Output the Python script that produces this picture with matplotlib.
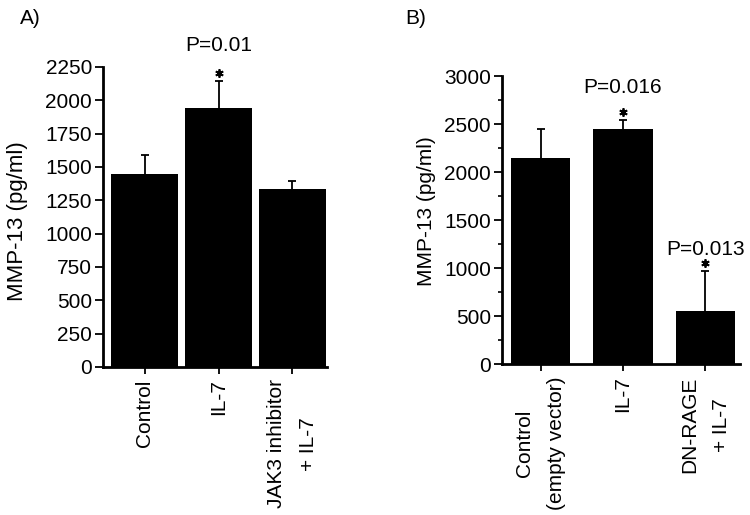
import matplotlib
matplotlib.use("Agg")
import matplotlib.pyplot as plt
import numpy as np

plt.rcParams['font.family'] = ['Liberation Sans', 'DejaVu Sans']

# Panel A data
cats_a = ["Control", "IL-7", "JAK3 inhibitor\n+ IL-7"]
vals_a = [1450, 1945, 1335]
errs_a = [140, 200, 62]
yticks_a = [0, 250, 500, 750, 1000, 1250, 1500, 1750, 2000, 2250]
ann_a = [(1, 2205, "P=0.01", 2410)]  # (bar idx, star y, text, text y)

# Panel B data
cats_b = ["Control\n(empty vector)", "IL-7", "DN-RAGE\n+ IL-7"]
vals_b = [2150, 2445, 550]
errs_b = [300, 95, 420]
yticks_b = [0, 500, 1000, 1500, 2000, 2500, 3000]
ann_b = [(1, 2620, "P=0.016", 2885), (2, 1050, "P=0.013", 1195)]

W, H = 750, 515
fig = plt.figure(figsize=(7.5, 5.15), dpi=100)
axA = fig.add_axes([103 / W, 1 - 367 / H, 224 / W, 300 / H])
axB = fig.add_axes([502 / W, 1 - 364 / H, 238 / W, 288 / H])

FS = 15

def style(ax, cats, vals, errs, yticks, width, xlim, ylim, anns, minor=None):
    x = np.arange(len(cats))
    ax.bar(x, vals, width=width, color='black', zorder=2)
    # symmetric error bars; the lower half is hidden behind the bars
    ax.errorbar(x, vals, yerr=errs, fmt='none',
                ecolor='black', elinewidth=1.3, capsize=3, capthick=1.3, zorder=1)
    ax.set_xlim(*xlim)
    ax.set_ylim(*ylim)
    ax.set_yticks(yticks)
    if minor is not None:
        ax.set_yticks(minor, minor=True)
    ax.set_xticks(x)
    ax.set_xticklabels(cats, rotation=90, ha='center', va='top',
                       multialignment='center', fontsize=FS, linespacing=1.85)
    ax.tick_params(axis='y', labelsize=FS, direction='out', length=6, width=1.3, pad=2)
    ax.tick_params(axis='y', which='minor', direction='out', length=3, width=1.2)
    ax.tick_params(axis='x', direction='out', length=5, width=1.3, pad=4)
    for s in ['top', 'right']:
        ax.spines[s].set_visible(False)
    for s in ['left', 'bottom']:
        ax.spines[s].set_linewidth(2)
    for idx, sy, txt, ty in anns:
        ax.plot([idx], [sy], marker=(6, 2, 0), color='black', markersize=6,
                markeredgewidth=1.3, clip_on=False)
        ax.text(idx, ty, txt, ha='center', va='center', fontsize=FS, clip_on=False)

style(axA, cats_a, vals_a, errs_a, yticks_a, 0.9, (-0.565, 2.47), (0, 2250), ann_a)
style(axB, cats_b, vals_b, errs_b, yticks_b, 0.72, (-0.47, 2.42), (0, 3000), ann_b,
      minor=np.arange(0, 3001, 250))

fig.text(18 / W, 1 - 221 / H, "MMP-13 (pg/ml)", rotation=90, fontsize=16,
         ha='center', va='center')
fig.text(427 / W, 1 - 211 / H, "MMP-13 (pg/ml)", rotation=90, fontsize=15,
         ha='center', va='center')

fig.text(20 / W, 1 - 18 / H, "A)", fontsize=FS, va='center', ha='left')
fig.text(405 / W, 1 - 18 / H, "B)", fontsize=FS, va='center', ha='left')

fig.savefig("out.png", dpi=100)
